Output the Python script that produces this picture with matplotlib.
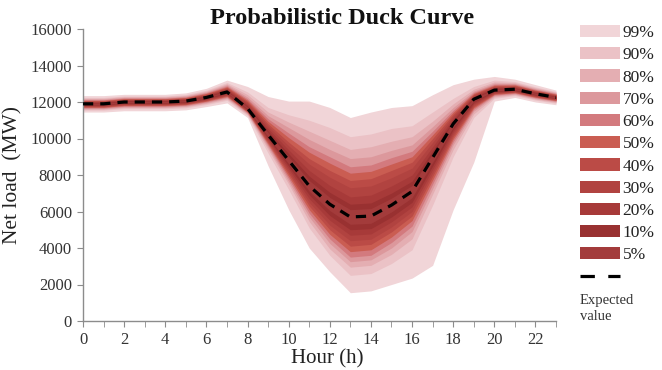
import matplotlib
matplotlib.use("Agg")
import matplotlib.pyplot as plt
from matplotlib.patches import Patch
from matplotlib.lines import Line2D

plt.rcParams['font.family'] = ['Liberation Serif', 'DejaVu Serif']

hours = list(range(24))
expected = [11900, 11900, 12000, 12000, 12000, 12050, 12250, 12550, 11650, 10200, 8800, 7400,
            6400, 5700, 5750, 6350, 7100, 8950, 10800, 12150, 12650, 12700, 12450, 12250]

levels = ['99%', '90%', '80%', '70%', '60%', '50%', '40%', '30%', '20%', '10%', '5%']
colors = ['#F1D5D8', '#EBC2C6', '#E4AEB2', '#DC989C', '#D37A7E', '#CA5D52',
          '#BB4B46', '#B14340', '#A73A39', '#993131', '#A33B3B']

# distance above the expected value (MW)
u99 = [450, 450, 420, 420, 420, 450, 500, 650, 1200, 2100, 3250, 4650, 5300, 5450, 5700, 5350, 4700, 3450, 2150, 1100, 750, 550, 500, 400]
u90 = [350, 350, 330, 330, 330, 360, 400, 520, 900, 1500, 2500, 3600, 4200, 4400, 4500, 4200, 3600, 2500, 1400, 700, 550, 420, 380, 320]
u80 = [300, 300, 290, 290, 290, 310, 350, 450, 750, 1250, 2100, 3000, 3500, 3700, 3800, 3500, 3000, 2000, 1100, 550, 450, 360, 330, 280]
u70 = [260, 260, 250, 250, 250, 270, 300, 390, 620, 1050, 1800, 2550, 3000, 3200, 3250, 3000, 2550, 1700, 900, 450, 380, 310, 280, 240]
u60 = [220, 220, 215, 215, 215, 230, 260, 330, 520, 880, 1500, 2150, 2600, 2750, 2800, 2600, 2200, 1450, 750, 380, 320, 270, 240, 210]
u50 = [190, 190, 185, 185, 185, 195, 220, 280, 440, 740, 1250, 1850, 2250, 2400, 2450, 2250, 1900, 1250, 640, 320, 270, 230, 200, 180]
u40 = [160, 160, 155, 155, 155, 165, 185, 230, 360, 600, 1000, 1500, 1850, 2000, 2050, 1900, 1600, 1050, 530, 270, 225, 190, 170, 150]
u30 = [130, 130, 125, 125, 125, 135, 150, 185, 290, 480, 800, 1200, 1480, 1600, 1650, 1500, 1280, 840, 430, 220, 180, 155, 140, 120]
u20 = [100, 100, 95, 95, 95, 100, 115, 140, 210, 350, 580, 850, 1030, 1100, 1150, 1050, 900, 600, 310, 160, 135, 115, 105, 90]
u10 = [60, 60, 58, 58, 58, 62, 70, 85, 130, 220, 370, 540, 650, 700, 720, 660, 560, 380, 200, 100, 85, 72, 65, 55]
u5 = [30, 30, 30, 30, 30, 32, 36, 45, 70, 120, 200, 300, 370, 400, 410, 380, 320, 220, 110, 55, 45, 38, 34, 30]

# distance below the expected value (MW)
l99 = [450, 450, 480, 480, 480, 480, 500, 600, 500, 1700, 2700, 3400, 3700, 4150, 4100, 4350, 4750, 5900, 4700, 3450, 600, 450, 450, 400]
l90 = [350, 350, 370, 370, 370, 370, 390, 460, 400, 1000, 1600, 2300, 2800, 3200, 3150, 3200, 3200, 2600, 1800, 1000, 450, 350, 350, 320]
l80 = [300, 300, 310, 310, 310, 310, 330, 390, 340, 800, 1300, 1950, 2450, 2750, 2700, 2700, 2600, 2000, 1400, 800, 380, 300, 300, 270]
l70 = [260, 260, 270, 270, 270, 270, 285, 335, 290, 680, 1150, 1700, 2150, 2450, 2400, 2350, 2200, 1700, 1150, 650, 320, 260, 260, 230]
l60 = [220, 220, 230, 230, 230, 230, 240, 285, 245, 580, 1000, 1500, 1900, 2200, 2150, 2050, 1900, 1450, 980, 550, 270, 220, 220, 200]
l50 = [190, 190, 195, 195, 195, 195, 205, 240, 210, 500, 870, 1300, 1650, 1900, 1850, 1750, 1600, 1230, 830, 470, 230, 190, 190, 170]
l40 = [160, 160, 165, 165, 165, 165, 170, 200, 175, 420, 730, 1100, 1400, 1600, 1550, 1470, 1350, 1030, 700, 400, 195, 160, 160, 145]
l30 = [130, 130, 135, 135, 135, 135, 140, 165, 145, 340, 600, 900, 1150, 1300, 1270, 1200, 1100, 840, 570, 320, 160, 130, 130, 120]
l20 = [100, 100, 105, 105, 105, 105, 108, 125, 110, 260, 460, 700, 880, 1000, 980, 920, 850, 650, 440, 250, 125, 100, 100, 90]
l10 = [60, 60, 62, 62, 62, 62, 65, 75, 66, 180, 320, 490, 620, 700, 690, 650, 600, 460, 310, 170, 80, 62, 62, 55]
l5 = [30, 30, 32, 32, 32, 32, 34, 40, 35, 100, 180, 280, 350, 400, 395, 370, 340, 260, 175, 95, 42, 32, 32, 30]

uppers = [u99, u90, u80, u70, u60, u50, u40, u30, u20, u10, u5]
lowers = [l99, l90, l80, l70, l60, l50, l40, l30, l20, l10, l5]

fig = plt.figure(figsize=(6.62, 3.70), dpi=100)
ax = fig.add_axes([83/662, 1-321/370, (556-83)/662, (321-29)/370])

for lvl, col, up, lo in zip(levels, colors, uppers, lowers):
    top = [e + d for e, d in zip(expected, up)]
    bot = [e - d for e, d in zip(expected, lo)]
    ax.fill_between(hours, bot, top, color=col, lw=0, zorder=2)

ax.plot(hours, expected, color='black', lw=2.3, dashes=(3.2, 2.2), zorder=3)

ax.set_xlim(0, 23)
ax.set_ylim(0, 16000)
ax.set_xticks(range(0, 23, 2))
ax.set_xticks(range(0, 24), minor=True)
ax.set_yticks(range(0, 16001, 2000))
for s in ['top', 'right']:
    ax.spines[s].set_visible(False)
for s in ['left', 'bottom']:
    ax.spines[s].set_color('#8c8c8c')
    ax.spines[s].set_linewidth(1.0)
ax.tick_params(axis='both', which='both', color='#8c8c8c', labelsize=12, labelcolor='#333333')
ax.tick_params(axis='x', which='both', length=4, direction='out', pad=4)
ax.tick_params(axis='y', length=4, direction='out', pad=4)

ax.set_xlabel('Hour (h)', fontsize=15, color='#222222', labelpad=1)
ax.xaxis.set_label_coords((327-83)/473, -0.095)
ax.set_ylabel('Net load  (MW)', fontsize=15.5, color='#222222', labelpad=6)

fig.text(342/662, 1-18/370, 'Probabilistic Duck Curve', fontsize=17.5, fontweight='bold',
         ha='center', va='center', color='#111111')

handles = [Patch(facecolor=c, edgecolor='none') for c in colors]
handles.append(Line2D([], [], color='black', lw=2.3, dashes=(4.5, 4.2)))
labels = levels + ['']
leg = fig.legend(handles, labels, loc='upper left', bbox_to_anchor=(580/662, 1-25/370),
                 frameon=False, fontsize=12.5, handlelength=2.3, handleheight=0.7,
                 labelspacing=0.35, handletextpad=0.15, borderpad=0, borderaxespad=0)
for t in leg.get_texts():
    t.set_color('#222222')
fig.text(580/662, 1-294/370, 'Expected\nvalue', fontsize=10.5, ha='left', va='top',
         color='#333333', linespacing=1.3)

fig.savefig('out.png', dpi=100)
